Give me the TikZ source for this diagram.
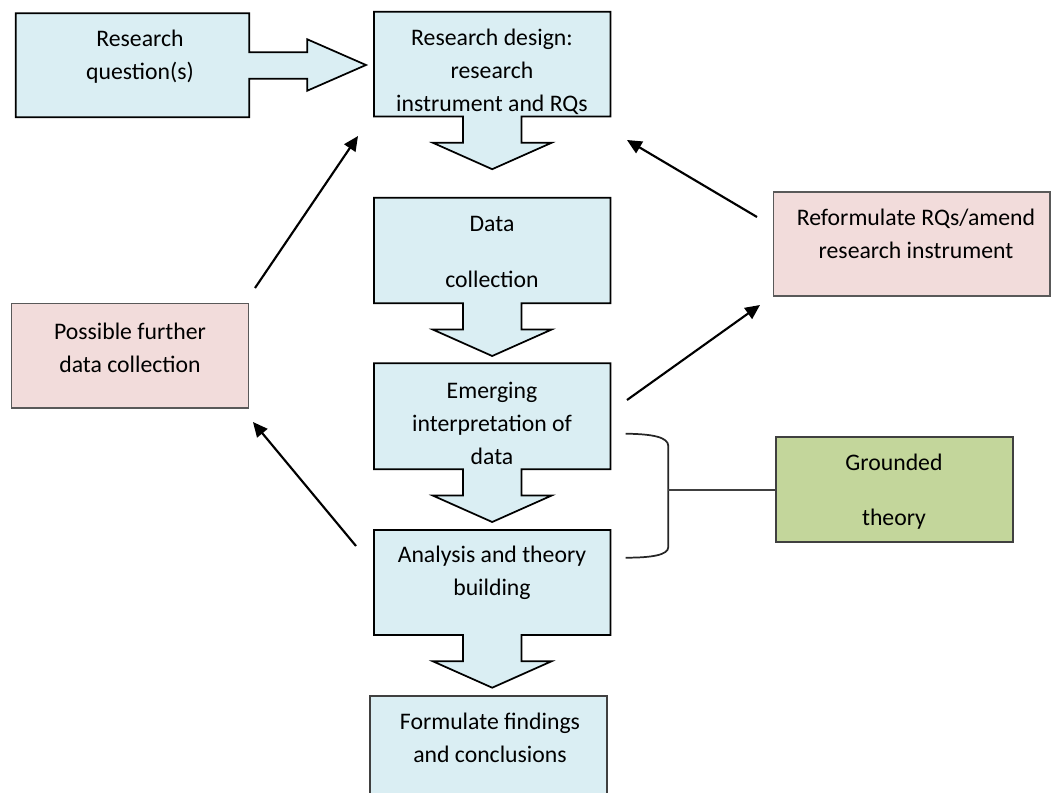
\documentclass[tikz,border=0pt]{standalone}
\usepackage{fontspec}
\setmainfont{Carlito}
\usetikzlibrary{arrows.meta}

\definecolor{calloutblue}{HTML}{DAEEF3}
\definecolor{notepink}{HTML}{F2DCDB}
\definecolor{theorygreen}{HTML}{C3D69B}
\definecolor{edgegray}{HTML}{595959}
\definecolor{edgedark}{HTML}{404040}

\tikzset{
  callout/.style={draw=black, fill=calloutblue, line width=1.3pt, line join=miter},
  notebox/.style={draw=edgegray, fill=notepink, line width=1.2pt, inner sep=0pt},
  theorybox/.style={draw=edgedark, fill=theorygreen, line width=1.5pt, inner sep=0pt},
  endbox/.style={draw=edgedark, fill=calloutblue, line width=1.3pt, inner sep=0pt},
  label/.style={font=\fontsize{17.8}{24.75}\selectfont, align=center, inner sep=0pt, text=black},
  conn/.style={line width=1.6pt, -{Triangle[length=11pt,width=10pt]}},
  bracket/.style={line width=1.3pt, draw=black!85},
  tie/.style={line width=1.3pt, draw=edgedark}
}

% box with a downward block arrow underneath: top edge, bottom edge
\newcommand\dncallout[2]{%
  \draw[callout] (374,#1) -- (610.5,#1) -- (610.5,#2) -- (521.5,#2)
    -- (521.5,{#2+26.3}) -- (551.5,{#2+26.3}) -- (492.2,{#2+52.7})
    -- (432.9,{#2+26.3}) -- (462.9,{#2+26.3}) -- (462.9,#2) -- (374,#2) -- cycle;}

\begin{document}
\begin{tikzpicture}[x=0.75pt,y=-0.75pt]
\useasboundingbox (0,0) rectangle (1051,793);
\clip (0,0) rectangle (1051,793);

% main column of steps
\draw[callout] (15.7,13.3) -- (249.3,13.3) -- (249.3,52.3) -- (307.3,52.3)
  -- (307.3,39.3) -- (366,65) -- (307.3,90.7) -- (307.3,78.7)
  -- (249.3,78.7) -- (249.3,117.3) -- (15.7,117.3) -- cycle;
\node[label] (rq) at (140,57) {Research\\question(s)};

\dncallout{11.7}{116.5}
\node[label] (rd) at (492,72) {Research design:\\research\\instrument and RQs};

\dncallout{197.7}{303.3}
\node[label] (dc) at (492,252) {Data\\[17pt]collection};

\dncallout{363.3}{469.3}
\node[label] (ei) at (492,423) {Emerging\\interpretation of\\data};

\dncallout{530}{635}
\node[label] (at) at (492,573) {Analysis and theory\\building};

\node[endbox, minimum width=177.5pt, minimum height=81pt] (fbox) at (488.4,750) {};
\node[label] (ff) at (490,737.5) {Formulate findings\\and conclusions};

% side boxes
\node[notebox, minimum width=177.5pt, minimum height=78.3pt] (pf) at (130,355.5) {};
\node[label] (pft) at (130,347.5) {Possible further\\data collection};

\node[notebox, minimum width=207.5pt, minimum height=78.2pt] (rf) at (911.7,243.9) {};
\node[label] (rft) at (916,234) {Reformulate RQs/amend\\research instrument};

\node[theorybox, minimum width=177.8pt, minimum height=78.5pt] (gt) at (894.5,489.7) {};
\node[label] (gtt) at (894,491.5) {Grounded\\[16.5pt]theory};

% feedback arrows
\coordinate (a1s) at (255,288);  \coordinate (a1e) at (358,136);
\coordinate (a2s) at (757,217);  \coordinate (a2e) at (627,140);
\coordinate (a3s) at (627,400);  \coordinate (a3e) at (760,305);
\coordinate (a4s) at (356,546);  \coordinate (a4e) at (253,422);
\draw[conn] (a1s) -- (a1e);
\draw[conn] (a2s) -- (a2e);
\draw[conn] (a3s) -- (a3e);
\draw[conn] (a4s) -- (a4e);

% bracket grouping interpretation and analysis
\coordinate (bt) at (625.7,433.7);
\coordinate (bb) at (625.7,557.7);
\coordinate (bm) at (668.3,489.7);
\draw[bracket] (bt) .. controls (652,434) and (668.3,437) .. (668.3,446)
  -- (668.3,547) .. controls (668.3,555) and (652,557.7) .. (bb);
\draw[tie] (bm) -- (gt.west);
\end{tikzpicture}
\end{document}
